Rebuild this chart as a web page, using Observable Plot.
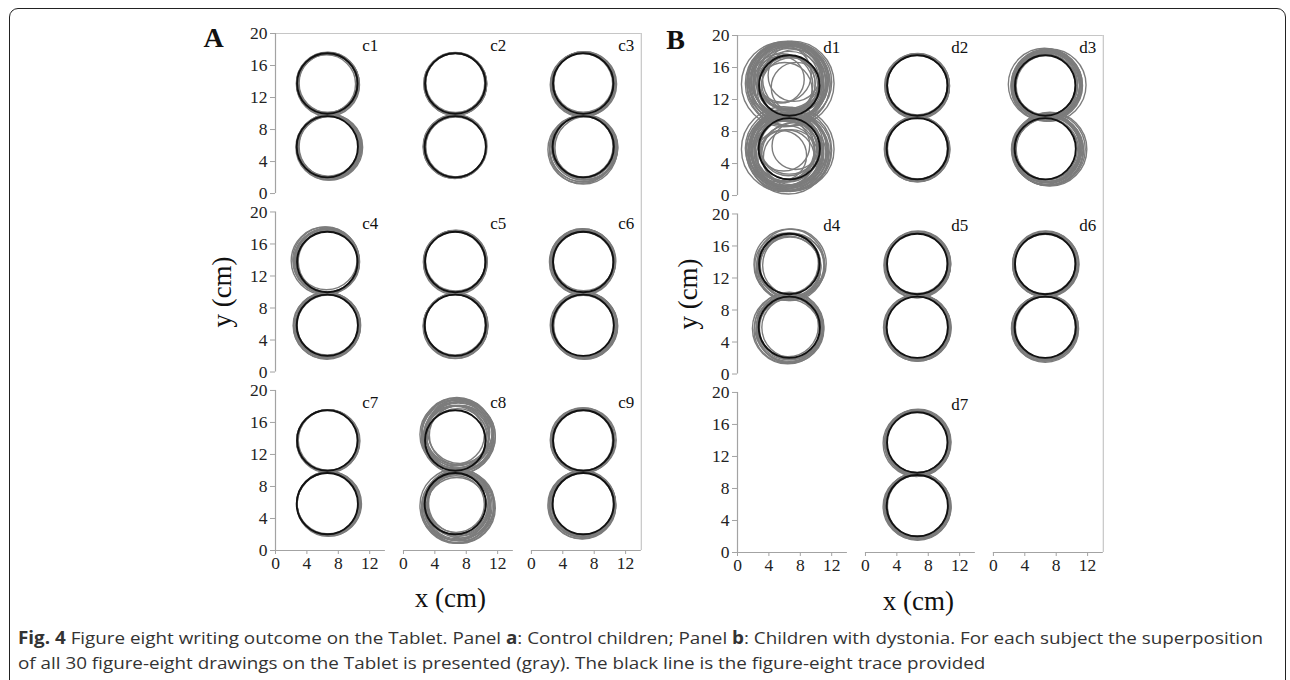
<!DOCTYPE html>
<html><head><meta charset="utf-8">
<script src="https://cdn.jsdelivr.net/npm/d3@7"></script>
<script src="https://cdn.jsdelivr.net/npm/@observablehq/plot@0.6"></script>
<style>
body{margin:0;background:#fff;}
#page{position:relative;width:1290px;height:680px;overflow:hidden;background:#fff;}
#frame{position:absolute;left:9px;top:8px;width:1277px;height:740px;border:1.6px solid #222;border-radius:9px;box-sizing:border-box;}
.panel{position:absolute;top:0;}
.panel svg text{font-family:'Liberation Serif','Times New Roman',serif;}
#caption{position:absolute;left:18px;top:625px;font-family:"Open Sans",sans-serif;font-size:17px;color:#333;line-height:25px;white-space:nowrap;}
#caption div{transform-origin:0 50%;width:max-content;}
</style></head>
<body><div id="page"><div id="frame"></div><div id="A" class="panel" style="left:0px"></div><div id="B" class="panel" style="left:660px"></div>
<div id="caption"><div id="cap1"><b>Fig. 4</b> Figure eight writing outcome on the Tablet. Panel <b>a</b>: Control children; Panel <b>b</b>: Children with dystonia. For each subject the superposition</div><div id="cap2">of all 30 figure-eight drawings on the Tablet is presented (gray). The black line is the figure-eight trace provided</div></div>
</div>
<script>
// ---- DATA ----
const xTicks = [0, 4, 8, 12];
const yTicks = [0, 4, 8, 12, 16, 20];
const panelANames = ["c1","c2","c3","c4","c5","c6","c7","c8","c9"];
const panelBNames = ["d1","d2","d3","d4","d5","d6","d7"];
// provided figure-eight trace: [centre x, centre y, radius] (cm)
const figureEight = [[6.6,13.75,3.85],[6.6,5.85,3.9]];
// estimated drawn loops of each subject: [centre x, centre y, radius] (cm)
const c1 = [[6.7,13.75,3.95],[6.6,13.7,3.8],[6.75,13.8,3.75],[6.65,13.65,3.9],[6.8,13.7,3.85],[6.6,13.85,3.8],[6.7,13.6,4.0],[6.55,13.75,3.9],[6.65,13.8,3.95],[6.7,13.7,3.85],[6.5,13.7,3.7],
  [6.8,5.9,4.05],[6.9,5.85,4.1],[6.7,5.8,3.95],[6.85,6.0,4.0],[6.75,5.75,4.15],[6.95,5.9,3.95],[6.7,5.95,3.85],[6.8,5.7,4.0],[6.75,5.85,4.05],[6.85,5.8,3.9],[6.9,5.8,4.2]];
const c2 = [[6.6,13.75,3.85],[6.65,13.7,3.95],[6.55,13.8,3.8],[6.7,13.7,3.9],[6.6,13.65,3.95],[6.5,13.75,3.9],[6.65,13.85,3.8],[6.6,13.7,4.0],
  [6.6,5.85,3.95],[6.65,5.9,3.9],[6.55,5.8,4.0],[6.7,5.85,3.85],[6.6,5.95,3.95],[6.5,5.85,4.0],[6.65,5.75,3.9],[6.6,5.9,4.05]];
const c3 = [[6.6,13.7,4.0],[6.7,13.8,3.9],[6.5,13.6,4.1],[6.8,13.75,3.95],[6.6,13.9,3.8],[6.55,13.65,4.05],[6.75,13.7,4.1],[6.6,13.8,3.95],[6.45,13.7,3.9],[6.65,13.75,4.05],
  [6.6,5.8,4.0],[6.5,5.6,4.2],[6.7,5.7,4.1],[6.4,5.5,4.3],[6.8,5.9,3.95],[6.6,5.6,4.25],[6.9,5.8,4.1],[6.5,5.9,3.9],[7.0,5.7,4.0],[6.6,5.4,4.3],[6.7,5.75,4.15]];
const c4 = [[6.5,13.9,4.1],[6.4,14.0,4.2],[6.6,13.8,3.9],[6.3,13.9,4.3],[6.7,13.7,4.0],[6.5,14.1,3.9],[6.45,13.8,4.15],[6.6,14.0,4.05],[6.8,13.8,3.9],[6.55,13.85,4.0],
  [6.6,5.8,4.1],[6.5,5.9,4.15],[6.7,5.7,4.0],[6.55,5.75,4.25],[6.8,5.85,4.05],[6.6,6.0,3.95],[6.45,5.8,4.2],[6.7,5.9,4.1],[6.65,5.8,4.0]];
const c5 = [[6.6,13.8,3.9],[6.65,13.75,4.0],[6.55,13.7,3.85],[6.7,13.85,3.95],[6.6,13.65,4.05],[6.5,13.8,3.95],[6.65,13.9,3.85],[6.6,13.75,3.95],
  [6.6,5.85,4.0],[6.7,5.9,4.05],[6.5,5.8,3.95],[6.65,5.75,4.1],[6.55,5.95,3.9],[6.75,5.85,4.0],[6.6,5.7,4.1],[6.65,5.85,3.95]];
const c6 = [[6.6,13.8,4.0],[6.5,13.9,4.1],[6.7,13.7,3.9],[6.45,13.75,4.15],[6.65,14.0,3.9],[6.6,13.6,4.05],[6.75,13.85,4.0],[6.55,13.7,3.85],[6.6,13.85,4.1],
  [6.7,5.8,4.1],[6.8,5.75,4.2],[6.6,5.9,4.0],[6.75,5.65,4.15],[6.65,5.85,4.25],[6.9,5.8,4.05],[6.6,5.7,3.95],[6.7,5.95,4.1],[6.75,5.8,4.05]];
const c7 = [[6.7,13.75,3.9],[6.65,13.7,3.95],[6.75,13.8,3.85],[6.7,13.65,4.0],[6.6,13.75,3.9],[6.8,13.7,3.95],
  [6.75,5.85,4.0],[6.8,5.9,4.05],[6.7,5.8,3.95],[6.85,5.85,4.1],[6.7,5.95,3.95],[6.75,5.75,4.05]];
const c8 = [[6.9,14.4,4.6],[7.0,14.3,4.4],[6.8,14.7,4.5],[7.2,14.0,4.2],[6.6,14.2,4.0],[7.1,14.6,4.3],[6.9,13.9,3.9],[7.3,14.3,4.4],[6.7,14.8,4.3],[7.0,14.2,4.7],[6.5,14.5,4.4],[7.2,14.9,4.1],[6.8,14.1,4.1],[7.1,14.4,3.8],[6.9,14.6,4.0],[7.0,14.0,4.5],[6.6,14.4,3.7],
  [6.9,5.6,4.4],[7.0,5.4,4.6],[6.8,5.9,4.2],[7.1,5.7,4.0],[6.6,5.5,4.3],[7.2,5.3,4.5],[6.9,6.0,4.1],[6.7,5.2,4.4],[7.3,5.8,4.3],[6.8,5.6,4.7],[7.0,5.9,3.8],[6.9,5.4,4.2],[6.7,5.8,3.6],[7.1,5.5,4.4],[6.8,5.3,3.9]];
const c9 = [[6.6,13.75,4.0],[6.5,13.8,4.1],[6.7,13.7,3.9],[6.55,13.65,4.05],[6.65,13.9,3.95],[6.45,13.75,3.9],[6.7,13.8,4.1],[6.6,13.7,4.0],
  [6.5,5.8,4.2],[6.4,5.7,4.3],[6.6,5.85,4.05],[6.45,5.9,4.15],[6.7,5.75,4.0],[6.5,5.6,4.25],[6.6,5.95,4.1],[6.35,5.8,4.1],[6.55,5.75,4.2]];
const d1 = [[6.4,14.0,5.4],[6.2,14.2,5.0],[6.6,14.1,4.9],[6.3,14.6,4.6],[6.5,13.9,5.3],[6.1,14.3,4.3],[6.8,14.3,4.8],[5.9,13.9,5.4],[6.7,14.6,4.1],[6.4,13.8,3.8],[6.9,14.0,5.4],
  [6.3,14.4,4.5],[6.5,14.8,4.0],[6.5,14.0,3.4],[6.0,14.5,4.7],[6.6,13.7,4.4],[7.0,14.2,5.0],[6.2,13.9,3.7],[6.5,14.9,4.3],[6.4,14.3,5.0],[6.1,14.1,4.9],[6.7,13.9,4.6],
  [5.5,14.5,3.0],[7.5,13.5,3.2],[6.0,13.2,3.5],[7.2,15.0,3.3],[5.8,15.2,3.6],[7.4,14.6,4.2],[5.6,13.8,4.0],[6.9,13.4,3.9],
  [6.3,5.6,5.2],[6.1,5.3,4.8],[6.5,5.5,5.0],[6.2,5.8,4.6],[6.6,5.2,4.4],[5.9,5.8,5.4],[6.8,5.4,4.9],[6.4,5.9,4.2],[6.0,5.5,3.9],[6.7,5.7,5.3],[6.3,5.3,4.5],
  [6.5,6.0,3.6],[6.1,5.7,4.7],[6.9,5.6,5.0],[6.2,5.1,4.3],[6.6,5.9,4.8],[6.4,5.4,3.4],[5.8,5.5,4.4],[6.5,5.2,5.1],[7.0,5.8,5.3],[6.3,5.6,4.0],[6.0,5.9,5.0],
  [5.6,5.0,3.2],[7.4,6.2,3.0],[6.8,4.8,3.5],[5.9,6.3,3.3],[7.2,5.1,4.1],[5.5,5.9,4.3],[6.6,6.4,3.8],[6.2,4.7,3.6]];
const d2 = [[6.6,13.75,3.95],[6.65,13.8,4.05],[6.55,13.7,3.9],[6.7,13.65,4.0],[6.6,13.85,3.85],[6.5,13.75,4.05],[6.75,13.75,3.95],[6.6,13.6,4.1],[6.65,13.7,4.0],
  [6.6,5.85,4.0],[6.7,5.8,4.05],[6.5,5.9,3.95],[6.65,5.75,4.1],[6.55,5.95,4.0],[6.7,5.9,3.9],[6.6,5.7,4.05],[6.5,5.8,4.1],[6.6,5.85,3.95]];
const d3 = [[6.7,13.8,4.3],[6.8,13.9,4.5],[6.6,13.7,4.1],[6.9,13.8,4.4],[6.5,13.9,4.6],[7.0,13.7,4.2],[6.7,14.0,4.0],[6.6,13.6,4.35],[6.8,13.75,4.55],[6.9,14.0,4.15],[6.5,13.8,3.95],[6.75,13.85,4.25],[7.2,13.8,4.6],[6.8,13.7,3.9],
  [6.8,5.8,4.3],[6.9,5.7,4.5],[7.0,5.9,4.2],[6.7,5.75,4.4],[7.1,5.8,4.6],[6.8,5.6,4.35],[6.9,6.0,4.1],[7.0,5.65,4.5],[6.75,5.85,4.25],[7.2,5.8,4.7],[6.85,5.7,4.0],[6.9,5.9,4.4],[6.8,5.8,3.9]];
const d4 = [[6.6,13.6,4.0],[6.8,13.4,4.3],[6.5,13.8,3.8],[7.0,13.5,4.1],[6.4,13.5,4.2],[6.9,13.8,4.4],[6.7,13.3,3.9],[6.6,13.7,4.5],[7.1,13.6,3.9],[6.5,13.2,4.1],
  [6.5,5.8,4.1],[6.7,5.6,4.3],[6.4,6.0,3.9],[6.8,5.7,4.0],[6.3,5.5,4.2],[6.6,5.9,4.4],[6.9,5.8,3.8],[6.5,5.4,4.0],[6.7,6.0,4.2],[6.4,5.7,4.5]];
const d5 = [[6.6,13.75,4.05],[6.7,13.8,4.15],[6.5,13.7,4.0],[6.65,13.65,4.2],[6.55,13.9,3.9],[6.75,13.75,4.1],[6.6,13.85,3.95],[6.5,13.6,4.15],[6.65,13.75,4.0],
  [6.6,5.85,4.1],[6.7,5.8,4.2],[6.5,5.9,4.0],[6.65,5.75,4.25],[6.55,5.95,4.05],[6.75,5.85,4.1],[6.6,5.7,4.15],[6.5,5.8,4.2],[6.6,5.8,4.0]];
const d6 = [[6.6,13.7,4.0],[6.7,13.8,4.1],[6.5,13.65,4.05],[6.65,13.75,4.2],[6.55,13.85,3.9],[6.75,13.7,4.15],[6.6,13.6,3.95],[6.6,13.8,4.05],
  [6.6,5.8,4.05],[6.5,5.7,4.2],[6.7,5.85,4.1],[6.45,5.9,4.0],[6.6,5.65,4.25],[6.75,5.8,3.95],[6.55,5.75,4.15],[6.6,5.85,4.1]];
const d7 = [[6.6,13.75,4.05],[6.7,13.8,4.2],[6.5,13.7,4.1],[6.65,13.6,4.15],[6.55,13.85,3.95],[6.75,13.75,4.1],[6.6,13.9,4.0],[6.5,13.65,4.25],
  [6.6,5.8,4.1],[6.7,5.75,4.2],[6.5,5.9,4.05],[6.65,5.7,4.25],[6.55,5.85,4.15],[6.8,5.8,4.0],[6.6,5.95,4.1],[6.45,5.75,4.2]];

// ---- LAYOUT ----
const loopsBySubject = {c1,c2,c3,c4,c5,c6,c7,c8,c9,d1,d2,d3,d4,d5,d6,d7};
const gridA = panelANames.map((name, i) => ({name, row: Math.floor(i / 3), col: i % 3}));
const gridB = [["d1",0,0],["d2",0,1],["d3",0,2],["d4",1,0],["d5",1,1],["d6",1,2],["d7",2,1]]
  .map(([name, row, col]) => ({name, row, col}));
const COL = 16.3, ROW = 22.3, XW = 14, YH = 20;
const X_MAX = 2 * COL + XW, Y_MIN = -2 * ROW;
const PX = 7.85; // pixels per cm horizontally
const PY = 8.0;  // pixels per cm vertically

function panel({grid, letter, width, left, x0, top, bottom, yLabDx, xLabDx, xLabDy}) {
  const H = 610;
  const gray = [], black = [];
  for (const s of grid) {
    for (const [cx, cy, r] of loopsBySubject[s.name]) gray.push({x: cx + s.col * COL, y: cy - s.row * ROW, r});
    for (const [cx, cy, r] of figureEight) black.push({x: cx + s.col * COL, y: cy - s.row * ROW, r});
  }
  const rows = [0, 1, 2], cols = [0, 1, 2];
  const yTickData = rows.flatMap(r => yTicks.map(v => ({y: v - r * ROW, label: String(v)})));
  const xTickData = cols.flatMap(c => xTicks.map(v => ({x: v + c * COL, label: String(v)})));
  const tickX = 5 / PX, tickY = 4 / PY;
  const axisColor = "#a3a3a3";
  const marks = [
    Plot.ruleY([YH], {x1: 0, x2: X_MAX, stroke: "#c6c6c6", strokeWidth: 1.2}),
    Plot.ruleX([X_MAX], {y1: Y_MIN, y2: YH, stroke: "#c6c6c6", strokeWidth: 1.2}),
    Plot.dot(gray, {x: "x", y: "y", r: "r", stroke: "#7c7c7c", strokeWidth: 1.4, fill: "none"}),
    Plot.dot(black, {x: "x", y: "y", r: "r", stroke: "#111", strokeWidth: 1.9, fill: "none"}),
    // axis lines
    Plot.ruleX(rows, {x: 0, y1: r => -r * ROW, y2: r => YH - r * ROW, stroke: axisColor, strokeWidth: 1.2}),
    Plot.ruleY(cols, {y: Y_MIN, x1: c => c * COL, x2: c => c * COL + XW, stroke: axisColor, strokeWidth: 1.2}),
    // tick marks
    Plot.ruleY(yTickData, {y: "y", x1: -tickX, x2: 0, stroke: axisColor, strokeWidth: 1}),
    Plot.ruleX(xTickData, {x: "x", y1: Y_MIN - tickY, y2: Y_MIN, stroke: axisColor, strokeWidth: 1}),
    // tick labels
    Plot.text(yTickData, {x: 0, y: "y", text: "label", dx: -8, textAnchor: "end", lineAnchor: "middle", fontSize: 17.5, fill: "#222"}),
    Plot.text(xTickData, {x: "x", y: Y_MIN, text: "label", dy: 13, textAnchor: "middle", lineAnchor: "middle", fontSize: 17.5, fill: "#222"}),
    // subject labels
    Plot.text(grid, {x: d => d.col * COL + 13.1, y: d => 18.5 - d.row * ROW, text: "name",
      textAnchor: "end", lineAnchor: "middle", fontSize: 17, fill: "#111"}),
    Plot.text([letter], {text: d => d, frameAnchor: "top-left", dx: -62, dy: 5, textAnchor: "middle",
      lineAnchor: "middle", fontSize: 28, fontWeight: "bold", fill: "#111"}),
    Plot.text(["y (cm)"], {text: d => d, frameAnchor: "left", dx: yLabDx, rotate: -90, textAnchor: "middle",
      lineAnchor: "middle", fontSize: 27, fill: "#111"}),
    Plot.text(["x (cm)"], {text: d => d, frameAnchor: "bottom", dx: xLabDx, dy: xLabDy, textAnchor: "middle",
      lineAnchor: "middle", fontSize: 27, fill: "#111"})
  ];
  const xEnd = x0 + X_MAX * PX;
  return Plot.plot({
    width, height: H,
    marginLeft: x0 - left, marginRight: left + width - xEnd,
    marginTop: top, marginBottom: H - bottom,
    x: {domain: [0, X_MAX], axis: null},
    y: {domain: [Y_MIN, YH], axis: null},
    r: {type: "linear", domain: [0, 1], range: [0, PX]},
    style: {fontFamily: "'Liberation Serif','Times New Roman',serif", fontSize: "15.5px", color: "#222", background: "transparent", overflow: "visible"},
    marks
  });
}

document.getElementById("A").appendChild(panel({grid: gridA, letter: "A", width: 660, left: 0, x0: 275, top: 33, bottom: 550, yLabDx: -53, xLabDx: -8, xLabDy: 48}));
document.getElementById("B").appendChild(panel({grid: gridB, letter: "B", width: 630, left: 660, x0: 737, top: 35, bottom: 552, yLabDx: -49, xLabDx: -2, xLabDy: 49}));

// fit caption to the reference line length
const c1el = document.getElementById("cap1"), c2el = document.getElementById("cap2");
const k = 1245 / c1el.getBoundingClientRect().width;
c1el.style.transform = c2el.style.transform = `scaleX(${k})`;
</script>
</body></html>
